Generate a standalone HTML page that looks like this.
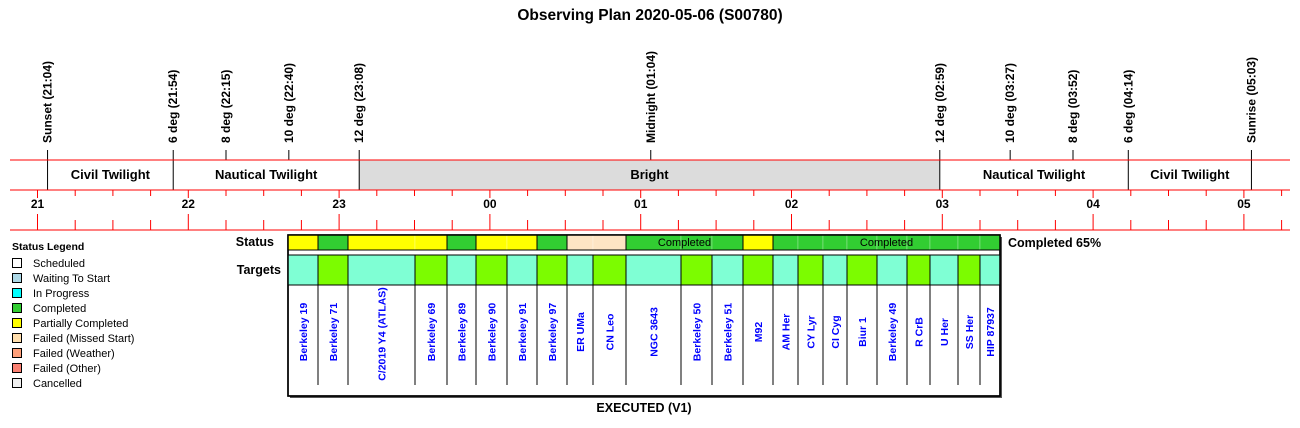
<!DOCTYPE html>
<html><head><meta charset="utf-8"><style>
body{margin:0;background:#fff;}
svg{display:block;font-family:"Liberation Sans",Arial,sans-serif;}
</style></head><body>
<svg id="c" width="1300" height="428" viewBox="0 0 1300 428">
<text x="650" y="20" text-anchor="middle" font-size="15.5" font-weight="bold">Observing Plan 2020-05-06 (S00780)</text>
</svg>
<script>
const hourLabels=["21","22","23","00","01","02","03","04","05"];
const eventNames=["Sunset (21:04)","6 deg (21:54)","8 deg (22:15)","10 deg (22:40)","12 deg (23:08)","Midnight (01:04)","12 deg (02:59)","10 deg (03:27)","8 deg (03:52)","6 deg (04:14)","Sunrise (05:03)"];
const eventHours=[21+4/60,21+54/60,22+15/60,22+40/60,23+8/60,25+4/60,26+59/60,27+27/60,27+52/60,28+14/60,29+3/60];
const eventBandLine=[1,1,0,0,1,0,1,0,0,1,1];
const bandNames=["Civil Twilight","Nautical Twilight","Bright","Nautical Twilight","Civil Twilight"];
const bandStart=[21+4/60,21+54/60,23+8/60,26+59/60,28+14/60];
const bandEnd=[21+54/60,23+8/60,26+59/60,28+14/60,29+3/60];
const targets=["Berkeley 19","Berkeley 71","C/2019 Y4 (ATLAS)","Berkeley 69","Berkeley 89","Berkeley 90","Berkeley 91","Berkeley 97","ER UMa","CN Leo","NGC 3643","Berkeley 50","Berkeley 51","M92","AM Her","CY Lyr","CI Cyg","Biur 1","Berkeley 49","R CrB","U Her","SS Her","HIP 87937"];
const targetWidths=[30,30,67,32,29,31,30,30,26,33,55,31,31,30,25,25,24,30,30,23,28,22,20];
const targetStatus=["P","C","P","P","C","P","P","C","M","M","C","C","C","P","C","C","C","C","C","C","C","C","C"];
const legendNames=["Scheduled","Waiting To Start","In Progress","Completed","Partially Completed","Failed (Missed Start)","Failed (Weather)","Failed (Other)","Cancelled"];
const legendColors=["#ffffff","#add8e6","#00ffff","#32cd32","#ffff00","#ffdead","#ffa07a","#fa8072","#f0f0f0"];
const statusColor={P:"#ffff00",C:"#32cd32",M:"#fde4c4"};

const svg=document.getElementById('c');
const NS="http://www.w3.org/2000/svg";
function mk(tag,attrs,parent){const e=document.createElementNS(NS,tag);for(const k in attrs)e.setAttribute(k,attrs[k]);(parent||svg).appendChild(e);return e;}
const X=h=>37.5+(h-21)*150.8;

bandNames.forEach((n,i)=>{
  const r=mk('rect',{x:X(bandStart[i]),y:160,width:X(bandEnd[i])-X(bandStart[i]),height:30,fill:n==="Bright"?"#dcdcdc":"#fff"});
  
  
  const t=mk('text',{x:(X(bandStart[i])+X(bandEnd[i]))/2,y:179,'text-anchor':'middle','font-size':13,'font-weight':'bold'});
  t.textContent=n;
  
  
});
eventNames.forEach((n,i)=>{
  const x=X(eventHours[i]);
  const l=mk('line',{x1:x,y1:150,x2:x,y2:eventBandLine[i]?190:160,stroke:'#000','stroke-width':1});
  
  
  const t=mk('text',{x:0,y:0,transform:`translate(${x+4},143) rotate(-90)`,'font-size':12,'font-weight':'bold'});
  t.textContent=n;
  
  
});
[160,190,230].forEach(y=>{const l=mk('line',{x1:10,y1:y,x2:1290,y2:y,stroke:'#f00','stroke-width':1});
  
  });
for(let q=0;q<=34;q++){
  const h=21+q/4, x=X(h); if(x>1290)break;
  const major=q%4===0;
  mk('line',{x1:x,y1:190,x2:x,y2:major?198:196,stroke:'#f00'});
  mk('line',{x1:x,y1:major?214:220,x2:x,y2:230,stroke:'#f00'});
}
hourLabels.forEach((h,i)=>{
  const t=mk('text',{x:X(21+i),y:208,'text-anchor':'middle','font-size':12,'font-weight':'bold'});
  t.textContent=h;
  
  
});
const lt=mk('text',{x:12,y:250,'font-size':10.5,'font-weight':'bold'});lt.textContent="Status Legend";


legendNames.forEach((n,i)=>{
  const y=258+i*15;
  const r=mk('rect',{x:12.5,y:y+0.5,width:9,height:9,fill:legendColors[i],stroke:'#000'});
  
  
  const t=mk('text',{x:33,y:y+9,'font-size':11});t.textContent=n;
  
  
});
const bx=288;
const total=targetWidths.reduce((a,b)=>a+b,0);
mk('rect',{x:bx+2,y:237,width:total,height:161,fill:'#555'});
const box=mk('rect',{x:bx,y:235,width:total,height:161,fill:'#fff',stroke:'#000','stroke-width':1.5});


let t1=mk('text',{x:274,y:246,'text-anchor':'end','font-size':12.5,'font-weight':'bold'});t1.textContent="Status";


t1=mk('text',{x:281,y:274,'text-anchor':'end','font-size':12.5,'font-weight':'bold'});t1.textContent="Targets";


let x=bx;
const xs=[];
targets.forEach((n,i)=>{
  const w=targetWidths[i];xs.push(x);
  const s=mk('rect',{x:x,y:235,width:w,height:15,fill:statusColor[targetStatus[i]],stroke:'rgba(255,255,255,0.25)'});
  
  
  const c=mk('rect',{x:x,y:255,width:w,height:30,fill:i%2?"#7cfc00":"#7fffd4",stroke:'#000'});
  
  
  if(i>0)mk('line',{x1:x,y1:285,x2:x,y2:385,stroke:'#000'});
  const t=mk('text',{x:0,y:0,transform:`translate(${x+w/2+4},${n.length>12?334:332}) rotate(-90)`,'text-anchor':'middle','font-size':10.5,'font-weight':'bold',fill:'#0000ff'});
  t.textContent=n;
  
  
  x+=w;
});
let i=0;
while(i<targets.length){
  let j=i;while(j+1<targets.length&&targetStatus[j+1]===targetStatus[i])j++;
  const x0=xs[i],x1=xs[j]+targetWidths[j];
  mk('rect',{x:x0,y:235,width:x1-x0,height:15,fill:'none',stroke:'#000'});
  if(targetStatus[i]==="C"&&j-i>=2){
    const t=mk('text',{x:(x0+x1)/2,y:246,'text-anchor':'middle','font-size':11});
    t.textContent="Completed";
    
    
  }
  i=j+1;
}
mk('line',{x1:bx,y1:250,x2:bx+total,y2:250,stroke:'#000'});
mk('rect',{x:bx,y:235,width:total,height:161,fill:'none',stroke:'#000','stroke-width':1.5});
let t2=mk('text',{x:1008,y:247,'font-size':12.5,'font-weight':'bold'});t2.textContent="Completed 65%";


t2=mk('text',{x:bx+total/2,y:412,'text-anchor':'middle','font-size':12.5,'font-weight':'bold'});t2.textContent="EXECUTED (V1)";


</script>
</body></html>
